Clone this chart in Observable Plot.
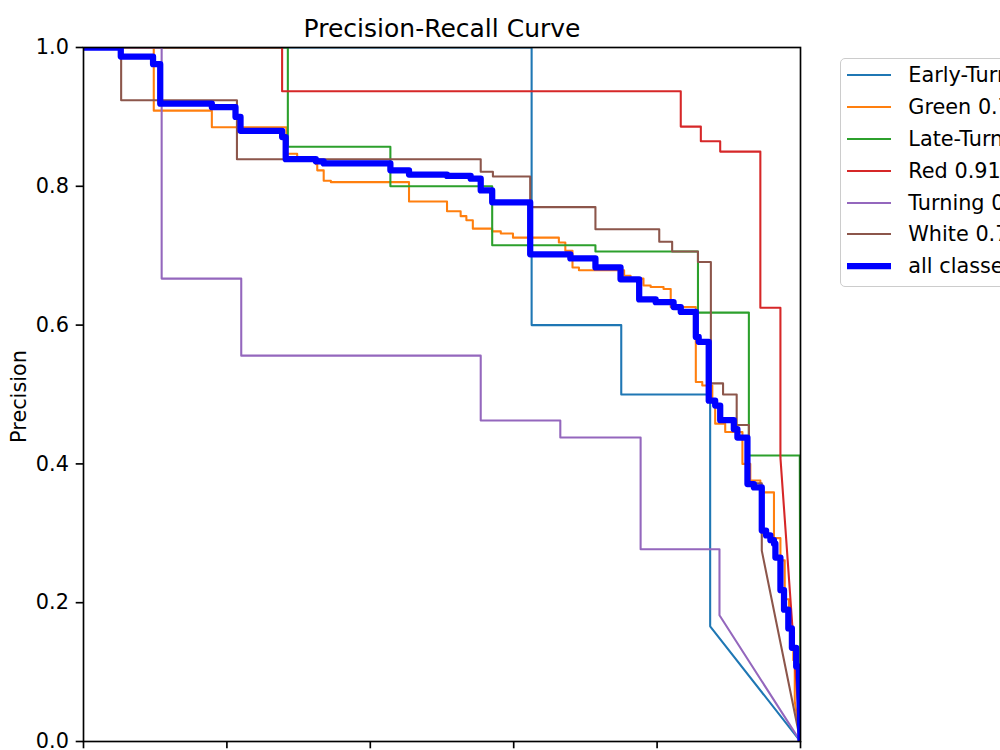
<!DOCTYPE html>
<html><head><meta charset="utf-8">
<script src="https://cdn.jsdelivr.net/npm/d3@7"></script>
<script src="https://cdn.jsdelivr.net/npm/@observablehq/plot@0.6"></script>
<style>
html,body{margin:0;padding:0;background:#fff;overflow:hidden;}
#wrap{position:relative;width:1000px;height:750px;overflow:hidden;font-family:"DejaVu Sans",sans-serif;}
#chart{position:absolute;left:0;top:0;}
#legend{position:absolute;left:840px;top:58px;width:330px;height:229px;box-sizing:border-box;border:1.6px solid #cccccc;border-radius:5px;background:rgba(255,255,255,0.85);padding-top:0.5px;}
.row{height:31.8px;display:flex;align-items:center;white-space:nowrap;font-size:20.8px;color:#000;}
.sw{margin-left:5.5px;margin-right:17.8px;width:44px;height:10px;display:block;flex:0 0 44px;}
</style></head><body>
<div id="wrap"><div id="chart"></div><div id="legend"></div></div>
<script>
// ---- data ----
const titleText = "Precision-Recall Curve";
const yLabel = "Precision";
const axisTicks = [0, 0.2, 0.4, 0.6, 0.8, 1.0];

const classNames = ["Early-Turning", "Green", "Late-Turning", "Red", "Turning", "White"];
const classAP = [0.772, 0.745, 0.798, 0.917, 0.510, 0.769];
const classColors = ["#1f77b4", "#ff7f0e", "#2ca02c", "#d62728", "#9467bd", "#8c564b"];
const allLabel = "all classes 0.752 mAP@0.5";
const allColor = "#0000ff";

// each pair: precision holds from this recall until the next recall; last segment to (1,0) is linear
const earlyRecall    = [0, 0.625, 0.750, 0.874, 1.0];
const earlyPrecision = [1.0, 0.600, 0.500, 0.166, 0.0];

const greenRecall    = [0, 0.098, 0.179, 0.283, 0.298, 0.324, 0.326, 0.335, 0.345, 0.454, 0.507, 0.526, 0.534, 0.543, 0.570, 0.582, 0.599, 0.663, 0.672, 0.682, 0.691, 0.754, 0.763, 0.781, 0.791, 0.809, 0.819, 0.854, 0.863, 0.877, 0.881, 0.895, 0.919, 0.930, 0.944, 0.963, 0.972, 0.978, 0.984, 0.990, 0.992, 1.0];
const greenPrecision = [1.0, 0.909, 0.885, 0.847, 0.840, 0.832, 0.823, 0.808, 0.806, 0.778, 0.764, 0.757, 0.751, 0.739, 0.735, 0.732, 0.726, 0.719, 0.707, 0.683, 0.679, 0.671, 0.667, 0.657, 0.655, 0.652, 0.626, 0.518, 0.513, 0.491, 0.458, 0.446, 0.400, 0.376, 0.359, 0.293, 0.261, 0.205, 0.160, 0.117, 0.058, 0.0];

const lateRecall    = [0, 0.285, 0.428, 0.570, 0.714, 0.857, 0.928, 0.999, 1.0];
const latePrecision = [1.0, 0.857, 0.800, 0.715, 0.706, 0.618, 0.412, 0.412, 0.0];

const redRecall    = [0, 0.277, 0.833, 0.861, 0.888, 0.944, 0.972, 1.0];
const redPrecision = [1.0, 0.937, 0.886, 0.865, 0.850, 0.625, 0.409, 0.0];

const turningRecall    = [0, 0.109, 0.220, 0.554, 0.665, 0.777, 0.887, 1.0];
const turningPrecision = [1.0, 0.667, 0.556, 0.4625, 0.438, 0.277, 0.182, 0.0];

const whiteRecall    = [0, 0.0525, 0.214, 0.554, 0.571, 0.623, 0.714, 0.803, 0.821, 0.857, 0.875, 0.892, 0.911, 0.928, 0.946, 1.0];
const whitePrecision = [1.0, 0.924, 0.839, 0.821, 0.814, 0.770, 0.738, 0.720, 0.706, 0.691, 0.516, 0.500, 0.456, 0.372, 0.275, 0.0];

const allRecall    = [0, 0.052, 0.097, 0.107, 0.179, 0.212, 0.219, 0.277, 0.282, 0.324, 0.335, 0.428, 0.454, 0.507, 0.540, 0.554, 0.570, 0.623, 0.679, 0.714, 0.749, 0.775, 0.798, 0.823, 0.833, 0.854, 0.858, 0.872, 0.881, 0.888, 0.907, 0.912, 0.926, 0.935, 0.946, 0.952, 0.958, 0.963, 0.965, 0.972, 0.977, 0.983, 0.988, 0.994, 0.998, 1.0];
const allPrecision = [1.0, 0.987, 0.976, 0.919, 0.914, 0.900, 0.880, 0.871, 0.839, 0.836, 0.833, 0.823, 0.817, 0.815, 0.811, 0.794, 0.777, 0.702, 0.696, 0.683, 0.666, 0.637, 0.633, 0.626, 0.619, 0.583, 0.576, 0.491, 0.484, 0.463, 0.450, 0.438, 0.371, 0.366, 0.304, 0.297, 0.290, 0.285, 0.265, 0.218, 0.190, 0.163, 0.135, 0.108, 0.093, 0.0];

// ---- build vertex tables ----
function curve(name, rec, prec) {
  const out = [];
  const n = rec.length;
  for (let i = 0; i < n - 1; i++) {
    out.push({series: name, recall: rec[i], precision: prec[i]});
    if (i < n - 2) out.push({series: name, recall: rec[i + 1], precision: prec[i]});
  }
  out.push({series: name, recall: rec[n - 1], precision: prec[n - 1]});
  return out;
}
const classSeries = [
  [earlyRecall, earlyPrecision], [greenRecall, greenPrecision], [lateRecall, latePrecision],
  [redRecall, redPrecision], [turningRecall, turningPrecision], [whiteRecall, whitePrecision]
];
const classRows = classSeries.flatMap(([r, p], i) => curve(classNames[i], r, p));
const allRows = curve("all", allRecall, allPrecision);

const chart = Plot.plot({
  width: 1000, height: 800,
  marginLeft: 83, marginRight: 200, marginTop: 47, marginBottom: 59,
  style: {fontFamily: "DejaVu Sans", fontSize: "20.8px", color: "#000", background: "transparent", overflow: "visible"},
  x: {domain: [0, 1], label: null},
  y: {domain: [0, 1], label: null},
  color: {domain: classNames, range: classColors},
  marks: [
    Plot.line(classRows, {x: "recall", y: "precision", z: "series", stroke: "series", strokeWidth: 2.08, strokeLinejoin: "round", curve: "linear", clip: true}),
    Plot.line(allRows, {x: "recall", y: "precision", stroke: allColor, strokeWidth: 6.25, strokeLinejoin: "round", curve: "linear", clip: true}),
    Plot.frame({stroke: "#000", strokeWidth: 1.66}),
    Plot.axisX({ticks: axisTicks, tickSize: 7.3, stroke: "#000", strokeWidth: 1.66, fill: "none", label: null}),
    Plot.axisY({ticks: axisTicks, tickFormat: d => d.toFixed(1), tickSize: 7.3, tickPadding: 7.3, stroke: "#000", strokeWidth: 1.66, fontSize: 20.8, label: null}),
    Plot.text([titleText], {frameAnchor: "top", lineAnchor: "middle", textAnchor: "middle", dy: -19, fontSize: 25, fill: "#000"}),
    Plot.text([yLabel], {frameAnchor: "left", lineAnchor: "middle", textAnchor: "middle", dx: -64, dy: 2, rotate: -90, fontSize: 20.8, fill: "#000"})
  ]
});
document.getElementById("chart").appendChild(chart);

// ---- legend ----
const legend = document.getElementById("legend");
const entries = classNames.map((n, i) => ({label: `${n} ${classAP[i].toFixed(3)}`, color: classColors[i], w: 2.08}))
  .concat([{label: allLabel, color: allColor, w: 6.25}]);
for (const e of entries) {
  const row = document.createElement("div");
  row.className = "row";
  const svg = document.createElementNS("http://www.w3.org/2000/svg", "svg");
  svg.setAttribute("class", "sw");
  svg.setAttribute("width", 44); svg.setAttribute("height", 10);
  const ln = document.createElementNS("http://www.w3.org/2000/svg", "line");
  ln.setAttribute("x1", 0); ln.setAttribute("x2", 44); ln.setAttribute("y1", 5); ln.setAttribute("y2", 5);
  ln.setAttribute("stroke", e.color); ln.setAttribute("stroke-width", e.w);
  svg.appendChild(ln);
  const t = document.createElement("span");
  t.textContent = e.label;
  row.appendChild(svg); row.appendChild(t);
  legend.appendChild(row);
}
</script>
</body></html>
